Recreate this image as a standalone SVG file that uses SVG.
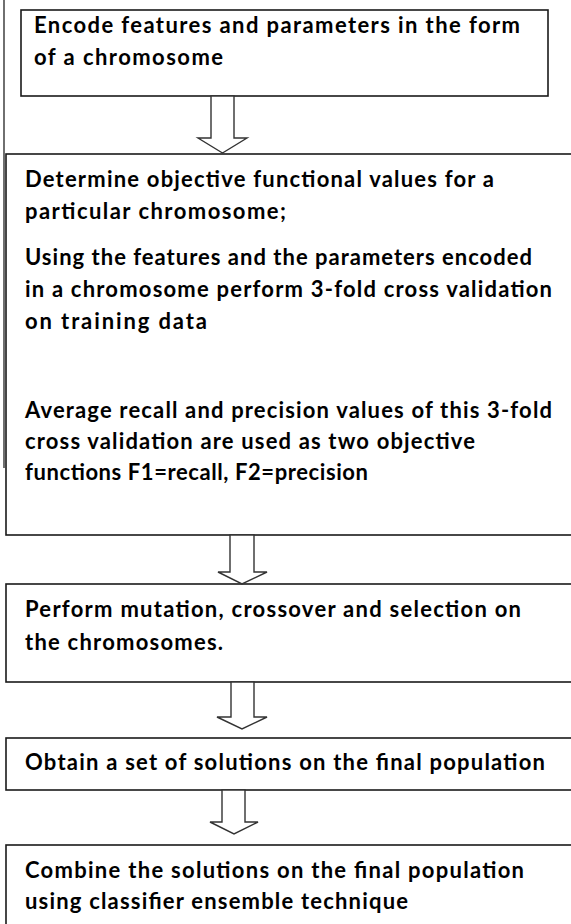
<svg xmlns="http://www.w3.org/2000/svg" width="571" height="924" viewBox="0 0 571 924">
<style>
.box{fill:#fff;stroke:#1a1a1a;stroke-width:1.6}
.arr{fill:#fff;stroke:#333;stroke-width:1.4;stroke-linejoin:miter}
.t{font-family:Lato,"Open Sans","Liberation Sans",sans-serif;font-weight:bold;font-size:22px;fill:#000}
</style>
<rect width="571" height="924" fill="#fff"/>
<line x1="4" y1="0" x2="4" y2="468" stroke="#333" stroke-width="1.4"/>
<g id="n1">
<rect class="box" x="21" y="10" width="527" height="86"/>
<text class="t" x="34" y="33" textLength="486" lengthAdjust="spacing">Encode features and parameters in the form</text>
<text class="t" x="34" y="65" textLength="189" lengthAdjust="spacing">of a chromosome</text>
</g>
<g id="n2">
<rect class="box" x="6" y="154" width="580" height="381"/>
<text class="t" x="25" y="187" textLength="469" lengthAdjust="spacing">Determine objective functional values for a</text>
<text class="t" x="25" y="219" textLength="261" lengthAdjust="spacing">particular chromosome;</text>
<text class="t" x="25" y="265" textLength="507" lengthAdjust="spacing">Using the features and the parameters encoded</text>
<text class="t" x="25" y="297" textLength="527" lengthAdjust="spacing">in a chromosome perform 3-fold cross validation</text>
<text class="t" x="25" y="329" textLength="182" lengthAdjust="spacing">on training data</text>
<text class="t" x="25" y="418" textLength="527" lengthAdjust="spacing">Average recall and precision values of this 3-fold</text>
<text class="t" x="25" y="449" textLength="450" lengthAdjust="spacing">cross validation are used as two objective</text>
<text class="t" x="25" y="480" textLength="343" lengthAdjust="spacing">functions F1=recall, F2=precision</text>
</g>
<g id="n3">
<rect class="box" x="6" y="584" width="580" height="98"/>
<text class="t" x="25" y="617" textLength="496" lengthAdjust="spacing">Perform mutation, crossover and selection on</text>
<text class="t" x="25" y="650" textLength="198" lengthAdjust="spacing">the chromosomes.</text>
</g>
<g id="n4">
<rect class="box" x="6" y="738" width="580" height="52"/>
<text class="t" x="25" y="770" textLength="520" lengthAdjust="spacing">Obtain a set of solutions on the final population</text>
</g>
<g id="n5">
<rect class="box" x="6" y="845" width="580" height="100"/>
<text class="t" x="25" y="878" textLength="499" lengthAdjust="spacing">Combine the solutions on the final population</text>
<text class="t" x="25" y="909" textLength="383" lengthAdjust="spacing">using classifier ensemble technique</text>
</g>
<g id="connectors">
<polygon class="arr" points="211,96 234,96 234,138 247,138 222.5,153 198,138 211,138"/>
<polygon class="arr" points="230,535 254,535 254,572 267,572 242,584 218,572 230,572"/>
<polygon class="arr" points="231,682 254,682 254,717 267,717 242,729 217,717 231,717"/>
<polygon class="arr" points="222,790 245,790 245,822 258,822 234,834 210,822 222,822"/>
</g>
</svg>
